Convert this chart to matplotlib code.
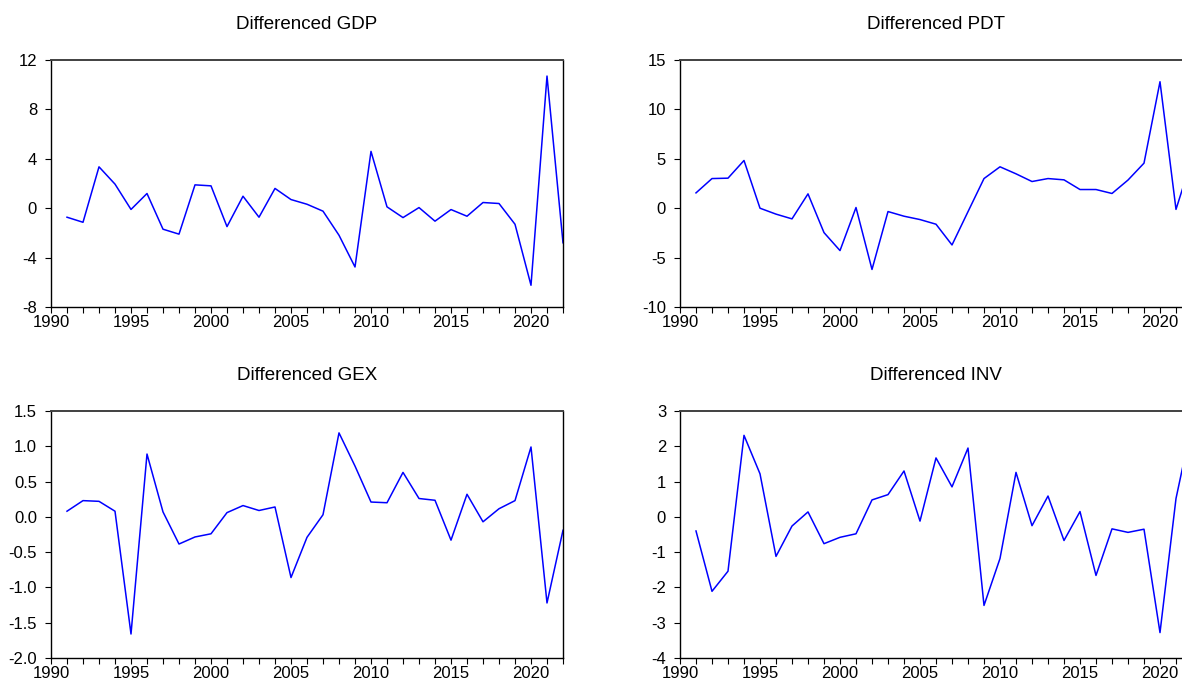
import numpy as np
from matplotlib import pyplot as plt
from matplotlib.ticker import MultipleLocator, FormatStrFormatter

plt.rcParams['font.family'] = ['Liberation Sans', 'DejaVu Sans']
plt.rcParams['axes.unicode_minus'] = False

years = list(range(1991, 2023))

gdp = [-0.73, -1.14, 3.35, 1.95, -0.10, 1.19, -1.70, -2.10, 1.89, 1.81,
       -1.49, 0.97, -0.73, 1.60, 0.70, 0.32, -0.24, -2.19, -4.76, 4.60,
       0.11, -0.76, 0.05, -1.05, -0.11, -0.65, 0.46, 0.38, -1.30, -6.24,
       10.70, -2.80]
pdt = [1.55, 3.00, 3.04, 4.83, 0.00, -0.60, -1.08, 1.45, -2.47, -4.29,
       0.07, -6.20, -0.34, -0.81, -1.15, -1.62, -3.72, -0.35, 3.00, 4.19,
       3.48, 2.70, 3.00, 2.87, 1.89, 1.89, 1.49, 2.85, 4.56, 12.80,
       -0.12, 5.00]
gex = [0.08, 0.23, 0.22, 0.08, -1.66, 0.89, 0.07, -0.385, -0.285, -0.24,
       0.06, 0.16, 0.09, 0.14, -0.86, -0.29, 0.03, 1.19, 0.72, 0.21,
       0.20, 0.63, 0.26, 0.235, -0.33, 0.32, -0.07, 0.115, 0.23, 0.99,
       -1.22, -0.19]
inv = [-0.40, -2.11, -1.54, 2.31, 1.22, -1.12, -0.26, 0.14, -0.76, -0.58,
       -0.48, 0.48, 0.63, 1.30, -0.12, 1.67, 0.85, 1.95, -2.51, -1.18,
       1.26, -0.25, 0.59, -0.67, 0.15, -1.66, -0.34, -0.44, -0.35, -3.28,
       0.52, 2.65]

titles = ['Differenced GDP', 'Differenced PDT', 'Differenced GEX', 'Differenced INV']
series = [gdp, pdt, gex, inv]
ylims = [(-8, 12), (-10, 15), (-2.0, 1.5), (-4, 3)]
ysteps = [4, 5, 0.5, 1]
yfmts = ['%d', '%d', '%.1f', '%d']

W, H = 1182, 681
fig = plt.figure(figsize=(W / 100, H / 100), dpi=100)

# panel boxes in pixels: left, top, width, height (right column runs past the edge)
boxes = [(51, 60, 512, 247), (680, 60, 512, 247),
         (51, 411, 512, 247), (680, 411, 512, 247)]

for (x0, y0, w, h), title, vals, ylim, step, fmt in zip(boxes, titles, series, ylims, ysteps, yfmts):
    ax = fig.add_axes([x0 / W, 1 - (y0 + h) / H, w / W, h / H])
    ax.plot(years, vals, color='#0000ff', lw=1.1)
    ax.set_xlim(1990, 2022)
    ax.set_ylim(*ylim)
    ax.xaxis.set_major_locator(MultipleLocator(5))
    ax.xaxis.set_minor_locator(MultipleLocator(1))
    ax.yaxis.set_major_locator(MultipleLocator(step))
    ax.yaxis.set_major_formatter(FormatStrFormatter(fmt))
    ax.tick_params(axis='x', which='major', length=4, width=0.8, pad=1.5, labelsize=12)
    ax.tick_params(axis='x', which='minor', length=4, width=0.8)
    ax.tick_params(axis='y', which='major', length=4, width=0.8, pad=6, labelsize=12)
    for s in ax.spines.values():
        s.set_linewidth(1.0)
        s.set_color('black')
    ax.spines['top'].set_color('#404040')
    ax.spines['top'].set_linewidth(1.4)
    ax.set_title(title, fontsize=13.5, pad=22)

plt.savefig('out.png', dpi=100)
